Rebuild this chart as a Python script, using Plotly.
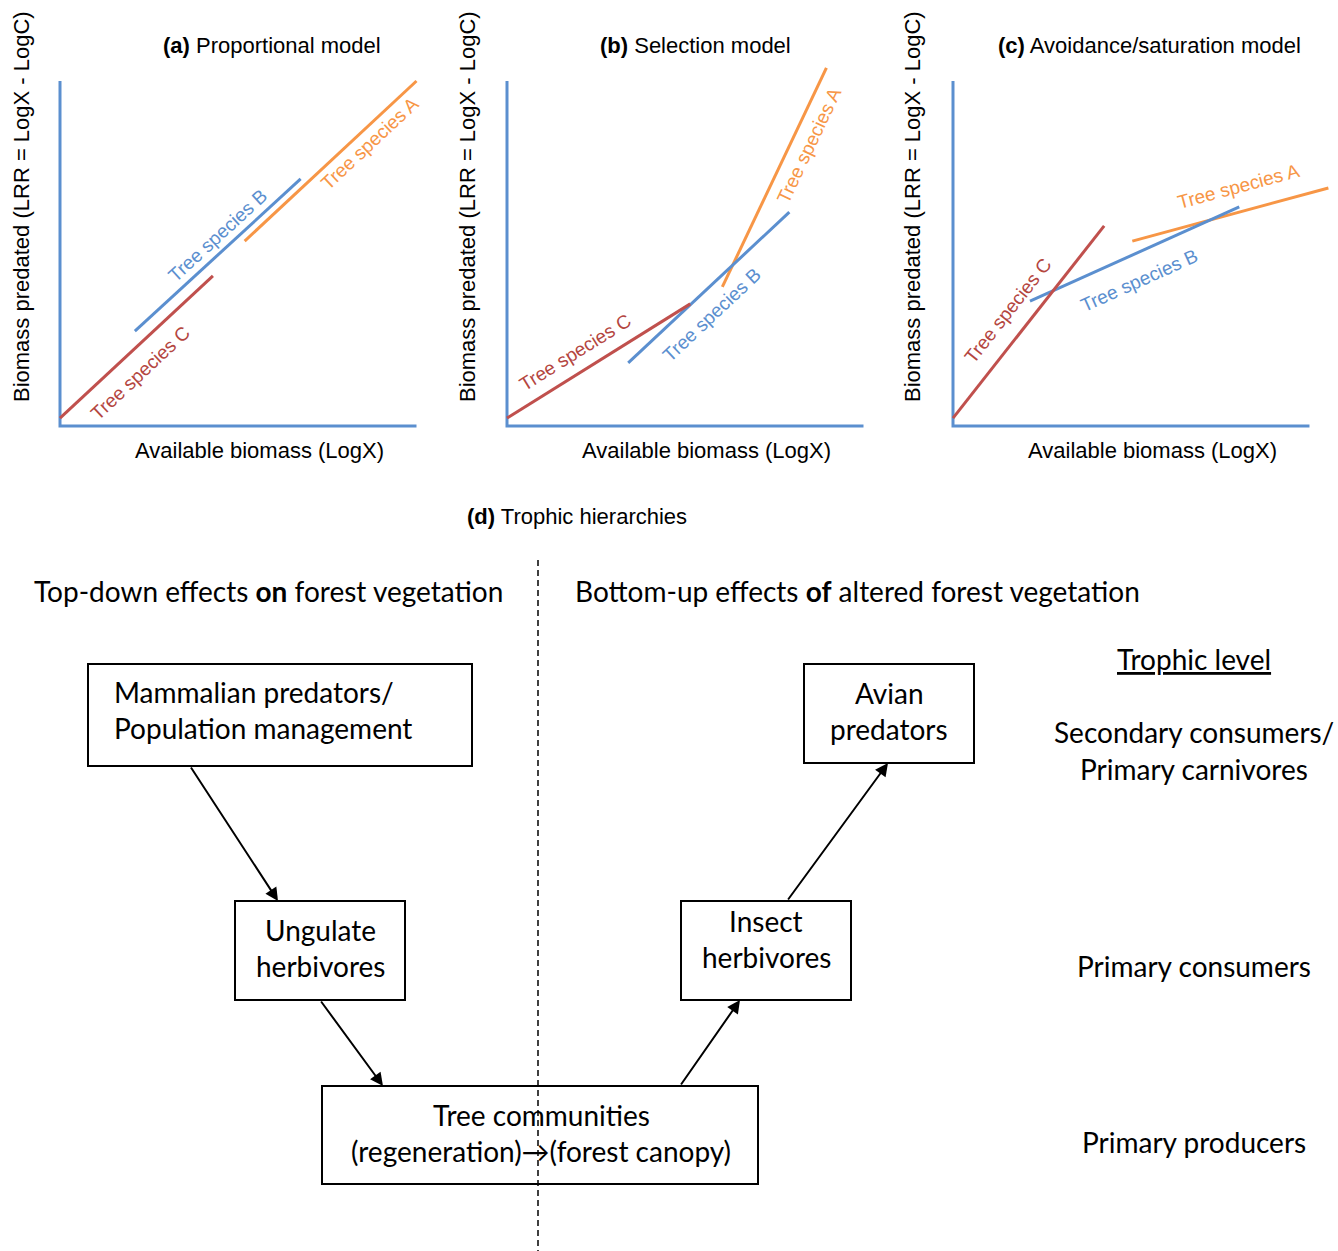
import plotly.graph_objects as go

W, H = 1338, 1251

# ------------------------------------------------------------------ data
panel_tags = ["(a)", "(b)", "(c)"]
panel_names = ["Proportional model", "Selection model", "Avoidance/saturation model"]
x_label = "Available biomass (LogX)"
y_label = "Biomass predated (LRR = LogX - LogC)"
species_names = ["Tree species A", "Tree species B", "Tree species C"]

# segment start/end per species (A, B, C), axis units 0..10
prop_x = [[5.18, 10.0], [2.10, 6.75], [0.0, 4.29]]
prop_y = [[5.36, 10.0], [2.75, 7.16], [0.23, 4.35]]
sel_x = [[6.04, 8.96], [3.40, 7.92], [0.0, 5.14]]
sel_y = [[4.03, 10.38], [1.83, 6.20], [0.23, 3.54]]
avo_x = [[5.03, 10.53], [2.16, 8.03], [0.0, 4.24]]
avo_y = [[5.36, 6.90], [3.62, 6.35], [0.23, 5.80]]
axis_x = [0, 0, 10]
axis_y = [10, 0, 0]

d_tag = "(d)"
d_name = "Trophic hierarchies"
left_heading = "Top-down effects <b>on</b> forest vegetation"
right_heading = "Bottom-up effects <b>of</b> altered forest vegetation"
node_labels = [
    ["Mammalian predators/", "Population management"],
    ["Ungulate", "herbivores"],
    ["Tree communities", "(regeneration)\u2192(forest canopy)"],
    ["Insect", "herbivores"],
    ["Avian", "predators"],
]
edges = [(0, 1), (1, 2), (2, 3), (3, 4)]
level_heading = "Trophic level"
level_labels = [["Secondary consumers/", "Primary carnivores"],
                ["Primary consumers"],
                ["Primary producers"]]

# ------------------------------------------------------------------ layout / style
line_colors = ["#F79646", "#5B8FCF", "#C0504D"]
text_colors = ["#F79646", "#5B8FCF", "#B4463F"]
axis_color = "#5B8FCF"
ARIAL = "Liberation Sans, Arial, sans-serif"
CALIBRI = "Lato, Open Sans, sans-serif"
CAL_SIZE = 28

origins_px = [60, 507, 953]
origin_y_px = 426
ppx, ppy = 35.65, 34.5
xr = [-1.2, 10.8]
yr = [-1.0, 11.6]

label_pos = [
    [(8.68, 8.20, -43), (4.43, 5.51, -42.5), (2.27, 1.54, -43)],
    [(8.48, 8.12, -64.6), (5.76, 3.22, -43.2), (1.91, 2.12, -31.9)],
    [(8.00, 6.93, -15.1), (5.22, 4.23, -24.2), (1.54, 3.36, -51.8)],
]
title_cx = [272, 696, 1149]
xlab_cx = [259, 706, 1152]
ylab_cx = [22, 468, 913]

node_boxes = [(88, 472, 664, 766), (235, 405, 901, 1000), (322, 758, 1086, 1184),
              (681, 851, 901, 1000), (804, 974, 664, 763)]
node_text_x = [112, 320, 541, 766, 889]
node_anchor = ["left", "center", "center", "center", "center"]
node_text_y = [[692, 728], [930, 966], [1115, 1151], [921, 957], [693, 729]]
edge_tail = [(190, 766), (320, 1000), (680, 1086), (787, 901)]
edge_head = [(278, 901), (383, 1086), (740, 1000), (888, 763)]
level_x = 1194
level_y = [[732, 769], [966], [1142]]

fig = go.Figure()
annotations = []
shapes = []
layout_axes = {}


def ann(**kw):
    kw.setdefault("showarrow", False)
    kw.setdefault("xanchor", "center")
    kw.setdefault("yanchor", "middle")
    annotations.append(kw)


panels = [(prop_x, prop_y), (sel_x, sel_y), (avo_x, avo_y)]
for i, (pxs, pys) in enumerate(panels):
    sfx = "" if i == 0 else str(i + 1)
    xa, ya = "x" + sfx, "y" + sfx
    fig.add_trace(go.Scatter(x=axis_x, y=axis_y, mode="lines", xaxis=xa, yaxis=ya,
                             line=dict(color=axis_color, width=3), showlegend=False,
                             hoverinfo="skip"))
    for k in range(3):
        fig.add_trace(go.Scatter(x=pxs[k], y=pys[k], mode="lines", xaxis=xa, yaxis=ya,
                                 line=dict(color=line_colors[k], width=3),
                                 name=species_names[k], showlegend=False))
        lx, ly, ang = label_pos[i][k]
        ann(x=lx, y=ly, xref=xa, yref=ya, text=species_names[k], textangle=ang,
            font=dict(family=ARIAL, size=19, color=text_colors[k]))
    x0 = (origins_px[i] + xr[0] * ppx) / W
    x1 = min(1.0, (origins_px[i] + xr[1] * ppx) / W)
    y0 = 1 - (origin_y_px - yr[0] * ppy) / H
    y1 = 1 - (origin_y_px - yr[1] * ppy) / H
    layout_axes["xaxis" + sfx] = dict(domain=[x0, x1], range=xr, visible=False,
                                      fixedrange=True, anchor=ya)
    layout_axes["yaxis" + sfx] = dict(domain=[y0, y1], range=yr, visible=False,
                                      fixedrange=True, anchor=xa)
    ann(x=title_cx[i] / W, y=1 - 45 / H, xref="paper", yref="paper",
        text="<b>%s</b> %s" % (panel_tags[i], panel_names[i]),
        font=dict(family=ARIAL, size=22, color="#000"))
    ann(x=xlab_cx[i] / W, y=1 - 450 / H, xref="paper", yref="paper", text=x_label,
        font=dict(family=ARIAL, size=22, color="#000"))
    ann(x=ylab_cx[i] / W, y=1 - 207 / H, xref="paper", yref="paper", text=y_label,
        textangle=-90, font=dict(family=ARIAL, size=22, color="#000"))

# ---- (d) diagram on a pixel-scaled axis pair
layout_axes["xaxis4"] = dict(domain=[0, 1], range=[0, W], visible=False, fixedrange=True,
                             anchor="y4")
layout_axes["yaxis4"] = dict(domain=[0, (H - 480) / H], range=[H, 480], visible=False,
                             fixedrange=True, anchor="x4")
fig.add_trace(go.Scatter(x=[538, 538], y=[560, H], mode="lines", xaxis="x4", yaxis="y4",
                         line=dict(color="#000", width=1.5, dash="6px,4px"),
                         showlegend=False, hoverinfo="skip"))

ann(x=577, y=516, xref="x4", yref="y4", text="<b>%s</b> %s" % (d_tag, d_name),
    font=dict(family=ARIAL, size=22, color="#000"))
ann(x=32, y=591, xref="x4", yref="y4", xanchor="left", text=left_heading,
    font=dict(family=CALIBRI, size=CAL_SIZE, color="#000"))
ann(x=573, y=591, xref="x4", yref="y4", xanchor="left", text=right_heading,
    font=dict(family=CALIBRI, size=CAL_SIZE, color="#000"))
ann(x=level_x, y=659, xref="x4", yref="y4", text="<u>%s</u>" % level_heading,
    font=dict(family=CALIBRI, size=CAL_SIZE, color="#000"))

for n, lines in enumerate(node_labels):
    bx0, bx1, by0, by1 = node_boxes[n]
    shapes.append(dict(type="rect", xref="x4", yref="y4", x0=bx0, x1=bx1, y0=by0, y1=by1,
                       line=dict(color="#000", width=2), fillcolor="rgba(0,0,0,0)"))
    for j, t in enumerate(lines):
        ann(x=node_text_x[n], y=node_text_y[n][j], xref="x4", yref="y4", text=t,
            xanchor=node_anchor[n], font=dict(family=CALIBRI, size=CAL_SIZE, color="#000"))

for e, (s, t) in enumerate(edges):
    hx, hy = edge_head[e]
    tx, ty = edge_tail[e]
    annotations.append(dict(x=hx, y=hy, ax=tx, ay=ty, xref="x4", yref="y4",
                            axref="x4", ayref="y4", text="", showarrow=True,
                            arrowhead=2, arrowsize=1.3, arrowwidth=2, arrowcolor="#000",
                            standoff=0, startstandoff=0))

for g, lines in enumerate(level_labels):
    for j, t in enumerate(lines):
        ann(x=level_x, y=level_y[g][j], xref="x4", yref="y4", text=t,
            font=dict(family=CALIBRI, size=CAL_SIZE, color="#000"))

fig.update_layout(width=W, height=H, margin=dict(l=0, r=0, t=0, b=0),
                  paper_bgcolor="white", plot_bgcolor="rgba(0,0,0,0)",
                  showlegend=False, annotations=annotations, shapes=shapes, **layout_axes)
fig.write_html("out.html")
